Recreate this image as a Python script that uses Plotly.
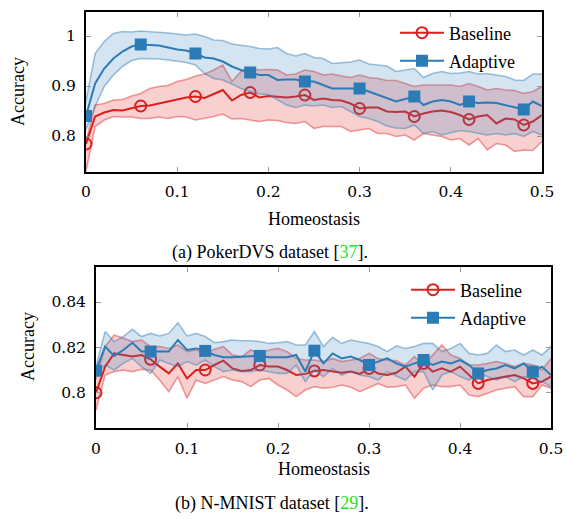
import plotly.graph_objects as go

# ---------------- data ----------------
homeostasis = [round(i * 0.01, 2) for i in range(51)]

# (a) PokerDVS
poker_base_mean = [0.784, 0.839, 0.847, 0.852, 0.851, 0.855, 0.860, 0.861, 0.865, 0.868, 0.872, 0.877, 0.879, 0.876, 0.884, 0.892, 0.871, 0.882, 0.887, 0.877, 0.880, 0.879, 0.877, 0.879, 0.882, 0.872, 0.875, 0.872, 0.871, 0.865, 0.855, 0.857, 0.857, 0.849, 0.848, 0.849, 0.839, 0.845, 0.849, 0.851, 0.848, 0.842, 0.833, 0.839, 0.842, 0.825, 0.835, 0.833, 0.822, 0.829, 0.842]
poker_base_upper = [0.790, 0.862, 0.865, 0.872, 0.873, 0.880, 0.885, 0.895, 0.899, 0.901, 0.909, 0.913, 0.920, 0.924, 0.932, 0.942, 0.909, 0.929, 0.935, 0.932, 0.933, 0.932, 0.922, 0.924, 0.932, 0.929, 0.922, 0.924, 0.920, 0.917, 0.922, 0.917, 0.915, 0.911, 0.911, 0.905, 0.899, 0.902, 0.902, 0.903, 0.902, 0.899, 0.905, 0.899, 0.892, 0.895, 0.892, 0.891, 0.885, 0.889, 0.899]
poker_base_lower = [0.730, 0.819, 0.832, 0.839, 0.838, 0.838, 0.835, 0.835, 0.838, 0.835, 0.839, 0.838, 0.832, 0.835, 0.839, 0.844, 0.834, 0.835, 0.832, 0.829, 0.832, 0.831, 0.827, 0.825, 0.829, 0.815, 0.819, 0.819, 0.819, 0.809, 0.812, 0.815, 0.805, 0.805, 0.799, 0.802, 0.792, 0.805, 0.802, 0.799, 0.792, 0.795, 0.782, 0.795, 0.772, 0.785, 0.782, 0.769, 0.772, 0.771, 0.789]
poker_adap_mean = [0.840, 0.905, 0.935, 0.955, 0.969, 0.979, 0.983, 0.982, 0.981, 0.977, 0.973, 0.971, 0.965, 0.957, 0.955, 0.949, 0.939, 0.932, 0.927, 0.922, 0.922, 0.912, 0.913, 0.913, 0.909, 0.909, 0.902, 0.895, 0.895, 0.895, 0.895, 0.889, 0.882, 0.875, 0.869, 0.874, 0.879, 0.862, 0.869, 0.872, 0.869, 0.862, 0.869, 0.866, 0.867, 0.866, 0.862, 0.857, 0.853, 0.869, 0.860]
poker_adap_upper = [0.870, 0.965, 0.989, 1.005, 1.009, 1.008, 1.010, 1.009, 1.007, 1.006, 1.004, 1.002, 1.004, 0.999, 0.992, 0.991, 0.984, 0.982, 0.979, 0.975, 0.974, 0.977, 0.965, 0.960, 0.965, 0.957, 0.955, 0.945, 0.946, 0.948, 0.952, 0.944, 0.942, 0.940, 0.929, 0.932, 0.935, 0.917, 0.925, 0.929, 0.925, 0.926, 0.929, 0.924, 0.925, 0.922, 0.919, 0.912, 0.911, 0.924, 0.924]
poker_adap_lower = [0.812, 0.859, 0.899, 0.922, 0.939, 0.951, 0.955, 0.955, 0.954, 0.952, 0.949, 0.947, 0.942, 0.925, 0.915, 0.912, 0.904, 0.895, 0.889, 0.884, 0.883, 0.872, 0.862, 0.857, 0.862, 0.860, 0.862, 0.857, 0.859, 0.849, 0.839, 0.835, 0.829, 0.820, 0.816, 0.815, 0.822, 0.805, 0.809, 0.802, 0.807, 0.811, 0.809, 0.805, 0.802, 0.805, 0.802, 0.805, 0.799, 0.809, 0.802]

# (b) N-MNIST
mnist_base_mean = [0.8001, 0.8116, 0.8174, 0.8167, 0.8160, 0.8167, 0.8148, 0.8116, 0.8086, 0.8130, 0.8064, 0.8101, 0.8101, 0.8123, 0.8142, 0.8108, 0.8097, 0.8101, 0.8123, 0.8116, 0.8116, 0.8101, 0.8079, 0.8084, 0.8097, 0.8101, 0.8094, 0.8089, 0.8094, 0.8084, 0.8108, 0.8086, 0.8079, 0.8089, 0.8116, 0.8072, 0.8130, 0.8094, 0.8108, 0.8094, 0.8116, 0.8079, 0.8042, 0.8057, 0.8064, 0.8072, 0.8079, 0.8064, 0.8042, 0.8050, 0.8072]
mnist_base_upper = [0.8060, 0.8204, 0.8255, 0.8240, 0.8226, 0.8233, 0.8204, 0.8204, 0.8196, 0.8211, 0.8182, 0.8189, 0.8174, 0.8192, 0.8204, 0.8167, 0.8160, 0.8189, 0.8174, 0.8189, 0.8196, 0.8182, 0.8152, 0.8145, 0.8145, 0.8138, 0.8152, 0.8138, 0.8145, 0.8152, 0.8174, 0.8152, 0.8145, 0.8142, 0.8123, 0.8160, 0.8123, 0.8167, 0.8211, 0.8167, 0.8152, 0.8123, 0.8123, 0.8130, 0.8138, 0.8130, 0.8116, 0.8130, 0.8123, 0.8101, 0.8152]
mnist_base_lower = [0.7925, 0.8079, 0.8094, 0.8101, 0.8094, 0.8104, 0.8101, 0.8057, 0.8006, 0.8072, 0.7977, 0.8057, 0.8042, 0.8057, 0.8072, 0.8057, 0.8050, 0.8028, 0.8057, 0.8064, 0.8035, 0.8013, 0.7984, 0.8013, 0.8028, 0.8021, 0.8025, 0.8035, 0.8025, 0.8006, 0.8025, 0.8042, 0.8025, 0.8028, 0.8035, 0.7977, 0.8021, 0.8035, 0.8028, 0.8028, 0.8035, 0.7991, 0.7984, 0.7999, 0.8013, 0.8021, 0.8028, 0.7984, 0.7984, 0.8035, 0.8021]
mnist_adap_mean = [0.8098, 0.8204, 0.8163, 0.8189, 0.8221, 0.8182, 0.8182, 0.8182, 0.8182, 0.8233, 0.8189, 0.8196, 0.8185, 0.8167, 0.8157, 0.8157, 0.8160, 0.8160, 0.8163, 0.8157, 0.8157, 0.8157, 0.8167, 0.8094, 0.8186, 0.8130, 0.8174, 0.8152, 0.8160, 0.8145, 0.8123, 0.8138, 0.8152, 0.8130, 0.8116, 0.8130, 0.8145, 0.8123, 0.8138, 0.8130, 0.8145, 0.8123, 0.8086, 0.8101, 0.8108, 0.8123, 0.8108, 0.8130, 0.8094, 0.8116, 0.8079]
mnist_adap_upper = [0.8116, 0.8270, 0.8226, 0.8248, 0.8280, 0.8248, 0.8262, 0.8251, 0.8262, 0.8309, 0.8251, 0.8262, 0.8248, 0.8221, 0.8226, 0.8233, 0.8230, 0.8230, 0.8226, 0.8218, 0.8221, 0.8226, 0.8211, 0.8211, 0.8270, 0.8204, 0.8245, 0.8218, 0.8233, 0.8226, 0.8218, 0.8204, 0.8182, 0.8207, 0.8196, 0.8204, 0.8218, 0.8218, 0.8182, 0.8196, 0.8218, 0.8174, 0.8167, 0.8174, 0.8211, 0.8182, 0.8189, 0.8167, 0.8189, 0.8167, 0.8204]
mnist_adap_lower = [0.8079, 0.8123, 0.8101, 0.8130, 0.8152, 0.8116, 0.8086, 0.8145, 0.8130, 0.8116, 0.8138, 0.8123, 0.8145, 0.8116, 0.8094, 0.8101, 0.8094, 0.8094, 0.8101, 0.8094, 0.8086, 0.8086, 0.8123, 0.8050, 0.8101, 0.8072, 0.8108, 0.8079, 0.8094, 0.8079, 0.8072, 0.8057, 0.8094, 0.8075, 0.8057, 0.8094, 0.8094, 0.8013, 0.8079, 0.8094, 0.8072, 0.8057, 0.8086, 0.8072, 0.8057, 0.8072, 0.8050, 0.8072, 0.8064, 0.8050, 0.8028]

x_ticks = [0, 0.1, 0.2, 0.3, 0.4, 0.5]
x_ticklabels = ["0", "0.1", "0.2", "0.3", "0.4", "0.5"]
poker_y_ticks = [0.8, 0.9, 1.0]
poker_y_ticklabels = ["0.8", "0.9", "1"]
mnist_y_ticks = [0.80, 0.82, 0.84]
mnist_y_ticklabels = ["0.8", "0.82", "0.84"]
series_names = ["Baseline", "Adaptive"]
captions = ['(a) PokerDVS dataset [<span style="color:#19e619">37</span>].',
            '(b) N-MNIST dataset [<span style="color:#19e619">29</span>].']
axis_x_title = "Homeostasis"
axis_y_title = "Accuracy"
MARK_EVERY = 6

# ---------------- style ----------------
RED = "#db1f1f"
BLUE = "#2c7bb6"
RED_FILL = "rgba(229,60,60,0.24)"
BLUE_FILL = "rgba(60,130,190,0.22)"
RED_EDGE = "rgba(225,60,60,0.50)"
BLUE_EDGE = "rgba(44,123,182,0.45)"
TEXT_FONT = "'Liberation Serif', 'Times New Roman', serif"
NUM_FONT = "'DejaVu Serif', serif"
TXT = 18

W, H = 567, 519
fig = go.Figure()


def add_panel(xa, ya, base, adap, legs):
    bm, bu, bl = base
    am, au, al = adap
    xm = homeostasis[::MARK_EVERY]
    fig.add_trace(go.Scatter(x=homeostasis, y=bl, mode="lines", line=dict(color=RED_EDGE, width=1.6),
                             xaxis=xa, yaxis=ya, showlegend=False, hoverinfo="skip"))
    fig.add_trace(go.Scatter(x=homeostasis, y=bu, mode="lines", line=dict(color=RED_EDGE, width=1.6),
                             fill="tonexty", fillcolor=RED_FILL,
                             xaxis=xa, yaxis=ya, showlegend=False, hoverinfo="skip"))
    fig.add_trace(go.Scatter(x=homeostasis, y=bm, mode="lines", line=dict(color=RED, width=2),
                             xaxis=xa, yaxis=ya, showlegend=False))
    fig.add_trace(go.Scatter(x=xm, y=bm[::MARK_EVERY], mode="markers",
                             marker=dict(symbol="circle-open", size=11, color=RED, line=dict(width=2)),
                             xaxis=xa, yaxis=ya, showlegend=False))
    fig.add_trace(go.Scatter(x=homeostasis, y=al, mode="lines", line=dict(color=BLUE_EDGE, width=1.6),
                             xaxis=xa, yaxis=ya, showlegend=False, hoverinfo="skip"))
    fig.add_trace(go.Scatter(x=homeostasis, y=au, mode="lines", line=dict(color=BLUE_EDGE, width=1.6),
                             fill="tonexty", fillcolor=BLUE_FILL,
                             xaxis=xa, yaxis=ya, showlegend=False, hoverinfo="skip"))
    fig.add_trace(go.Scatter(x=homeostasis, y=am, mode="lines", line=dict(color=BLUE, width=2),
                             xaxis=xa, yaxis=ya, showlegend=False))
    fig.add_trace(go.Scatter(x=xm, y=am[::MARK_EVERY], mode="markers",
                             marker=dict(symbol="square", size=12, color=BLUE),
                             xaxis=xa, yaxis=ya, showlegend=False))
    fig.add_trace(go.Scatter(x=[None], y=[None], mode="lines+markers", name=series_names[0],
                             line=dict(color=RED, width=2),
                             marker=dict(symbol="circle-open", size=11, color=RED, line=dict(width=2)),
                             xaxis=xa, yaxis=ya, legend=legs[0]))
    fig.add_trace(go.Scatter(x=[None], y=[None], mode="lines+markers", name=series_names[1],
                             line=dict(color=BLUE, width=2),
                             marker=dict(symbol="square", size=12, color=BLUE),
                             xaxis=xa, yaxis=ya, legend=legs[1]))


add_panel("x", "y", (poker_base_mean, poker_base_upper, poker_base_lower),
          (poker_adap_mean, poker_adap_upper, poker_adap_lower), ("legend", "legend2"))
add_panel("x2", "y2", (mnist_base_mean, mnist_base_upper, mnist_base_lower),
          (mnist_adap_mean, mnist_adap_upper, mnist_adap_lower), ("legend3", "legend4"))


def px_x(p):
    return p / W


def px_y(p):
    return 1 - p / H


common_axis = dict(showline=True, linecolor="black", linewidth=2, mirror="ticks",
                   ticks="inside", ticklen=5, tickwidth=1, tickcolor="#9a9a9a",
                   showgrid=False, zeroline=False, automargin=False,
                   tickfont=dict(family=NUM_FONT, size=15.5, color="black"))

fig.update_layout(
    width=W, height=H, margin=dict(l=0, r=0, t=0, b=0, autoexpand=False),
    paper_bgcolor="white", plot_bgcolor="white",
    font=dict(family=TEXT_FONT, size=TXT, color="black"),
    xaxis=dict(domain=[px_x(86), px_x(542)], range=[0, 0.5], anchor="y",
               tickvals=x_ticks, ticktext=x_ticklabels, ticklabelstandoff=4, **common_axis),
    yaxis=dict(domain=[px_y(172), px_y(12)], range=[0.728, 1.048], anchor="x",
               tickvals=poker_y_ticks, ticktext=poker_y_ticklabels, ticklabelstandoff=5, **common_axis),
    xaxis2=dict(domain=[px_x(96), px_x(551)], range=[0, 0.5], anchor="y2",
                tickvals=x_ticks, ticktext=x_ticklabels, ticklabelstandoff=5, **common_axis),
    yaxis2=dict(domain=[px_y(428), px_y(267)], range=[0.7846, 0.8554], anchor="x2",
                tickvals=mnist_y_ticks, ticktext=mnist_y_ticklabels, ticklabelstandoff=5, **common_axis),
    showlegend=True,
)

leg_common = dict(bgcolor="rgba(0,0,0,0)", borderwidth=0, itemwidth=44,
                  font=dict(family=TEXT_FONT, size=TXT, color="black"),
                  xanchor="left", yanchor="middle", itemclick=False, itemdoubleclick=False)
fig.update_layout(
    legend=dict(x=px_x(395), y=px_y(33), **leg_common),
    legend2=dict(x=px_x(395), y=px_y(61), **leg_common),
    legend3=dict(x=px_x(406), y=px_y(290), **leg_common),
    legend4=dict(x=px_x(406), y=px_y(318), **leg_common),
)


def label(text, cx, cy, angle=0):
    return dict(text=text, x=px_x(cx), y=px_y(cy), xref="paper", yref="paper",
                xanchor="center", yanchor="middle", showarrow=False, textangle=angle)


ann = [
    label(axis_x_title, 314, 219),
    label(axis_x_title, 324, 469),
    label(axis_y_title, 18, 92, -90),
    label(axis_y_title, 28, 347, -90),
    label(captions[0], 270, 252),
    label(captions[1], 272, 503),
]
fig.update_layout(annotations=ann)

fig.write_html("out.html", post_script="document.body.style.margin='0';",
               config={"displayModeBar": False})
